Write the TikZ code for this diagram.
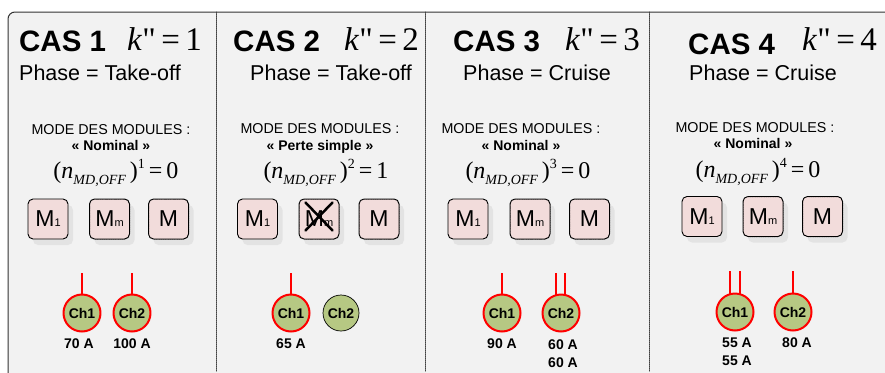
\documentclass[tikz,border=0pt]{standalone}
\usepackage{fontspec}
\setmainfont{Liberation Sans}
\newfontfamily\tms{Liberation Serif}
\usetikzlibrary{shadows}
\definecolor{panelbg}{HTML}{F2F2F2}
\definecolor{modfill}{HTML}{F2DCDB}
\definecolor{chfill}{HTML}{B6C883}
\definecolor{shade}{HTML}{D6D6D6}
\newcommand\noff[2]{(\textit{n}\raisebox{-6pt}{\fontsize{14}{14}\selectfont\itshape MD,OFF}\,)\raisebox{10pt}{\fontsize{14}{14}\selectfont #1}\,=\,#2}
\newcommand\kval[1]{\textit{k}"\,=\,#1}
\newcommand\modlbl[1]{M{\fontsize{11}{11}\selectfont #1}}
\begin{document}
\begin{tikzpicture}[x=1pt, y=-1pt, line join=round, line cap=round,
	cas/.style={anchor=base west, inner sep=0pt, font=\fontsize{29.5}{31}\selectfont\bfseries},
	kk/.style={anchor=base west, inner sep=0pt, font=\fontsize{33}{35}\selectfont\tms},
	phase/.style={anchor=base, inner sep=0pt, font=\fontsize{21.5}{23}\selectfont},
	mode/.style={anchor=base, inner sep=0pt, font=\fontsize{14.3}{16}\selectfont},
	mname/.style={anchor=base, inner sep=0pt, font=\fontsize{14}{16}\selectfont\bfseries},
	eqn/.style={anchor=base, inner sep=0pt, font=\fontsize{24}{26}\selectfont\tms},
	module/.style={draw=black, line width=0.9pt, fill=modfill, rounded corners=5pt, minimum width=40pt, minimum height=40pt, inner sep=0pt, font=\fontsize{23}{23}\selectfont, drop shadow={shadow xshift=5pt, shadow yshift=-6pt, fill=shade, draw=none}},
	moddot/.style={module, draw=black, line width=1pt, dash pattern=on 1.3pt off 0.5pt},
	chan/.style={circle, draw=red, line width=2pt, fill=chfill, minimum size=37pt, inner sep=0pt, font=\fontsize{14}{15}\selectfont\bfseries},
	chanoff/.style={chan, draw=black, line width=0.7pt, minimum size=36pt},
	amp/.style={anchor=base, inner sep=0pt, font=\fontsize{14}{15}\selectfont\bfseries},
	feed/.style={draw=red, line width=2pt, line cap=butt},
	cross/.style={draw=black, line width=2.5pt, solid},
	sep/.style={draw=black!75, line width=1pt, densely dotted}]
	\useasboundingbox (0,0) rectangle (885,372);
	\clip (0,0) rectangle (885,372);
	\fill[panelbg, rounded corners=7pt] (8,380) -- (8,12) -- (893,12) -- (893,380) -- cycle;
	\draw[black!80, line width=1pt, rounded corners=7pt] (8,380) -- (8,12) -- (893,12);
	\draw[sep] (216,12) -- (216,372);
	\draw[sep] (425,12) -- (425,372);
	\draw[sep] (649,12) -- (649,372);
	\path
	(82,273) coordinate (f11)
	(132,273) coordinate (f12)
	(291,273) coordinate (f21)
	(502,273) coordinate (f31)
	(556,273) coordinate (f32a)
	(565,273) coordinate (f32b)
	(730,271) coordinate (f41a)
	(740,271) coordinate (f41b)
	(793,271) coordinate (f42)
	;
	
	\node[cas] (cas1) at (19,51) {CAS 1};
	\node[kk] (k1) at (127,50) {\kval{1}};
	\node[phase, anchor=base west] (ph1) at (19,80) {Phase = Take-off};
	\node[mode] (md1) at (111,134) {MODE DES MODULES :};
	\node[mname] (mn1) at (111,150) {« Nominal »};
	\node[eqn] (eq1) at (116,178) {\noff{1}{0}};
	\node[module] (b11) at (48,219) {\modlbl{1}};
	\node[moddot] (b12) at (109.5,219) {\modlbl{m}};
	\node[moddot] (b13) at (168.5,219) {M};
	\draw[feed] (f11) -- (f11 |- 0,296);
	\draw[feed] (f12) -- (f12 |- 0,296);
	\node[chan] (c11) at (82,313) {Ch1};
	\node[chan] (c12) at (132,313) {Ch2};
	\node[amp] (a11) at (79,348) {70 A};
	\node[amp] (a12) at (132,348) {100 A};
	
	\node[cas] (cas2) at (233,51) {CAS 2};
	\node[kk] (k2) at (344,50) {\kval{2}};
	\node[phase] (ph2) at (331,80) {Phase = Take-off};
	\node[mode] (md2) at (320,133) {MODE DES MODULES :};
	\node[mname] (mn2) at (320,150) {« Perte simple »};
	\node[eqn] (eq2) at (326,178) {\noff{2}{1}};
	\node[module] (b21) at (257.5,219) {\modlbl{1}};
	\node[moddot] (b22) at (319,219) {\modlbl{m}};
	\node[moddot] (b23) at (379,219) {M};
	\draw[cross] ([shift={(7,4)}]b22.north west) -- ([shift={(-7,-9)}]b22.south east);
	\draw[cross] ([shift={(7,-9)}]b22.south west) -- ([shift={(-7,4)}]b22.north east);
	\draw[feed] (f21) -- (f21 |- 0,296);
	\node[chan] (c21) at (291,313) {Ch1};
	\node[chanoff] (c22) at (341,313) {Ch2};
	\node[amp] (a21) at (291,348) {65 A};
	
	\node[cas] (cas3) at (453,51) {CAS 3};
	\node[kk] (k3) at (565,50) {\kval{3}};
	\node[phase] (ph3) at (537,80) {Phase = Cruise};
	\node[mode] (md3) at (521,133) {MODE DES MODULES :};
	\node[mname] (mn3) at (521,150) {« Nominal »};
	\node[eqn] (eq3) at (528,178) {\noff{3}{0}};
	\node[module] (b31) at (468,219) {\modlbl{1}};
	\node[moddot] (b32) at (530,219) {\modlbl{m}};
	\node[moddot] (b33) at (589.5,219) {M};
	\draw[feed] (f31) -- (f31 |- 0,296);
	\draw[feed] (f32a) -- (f32a |- 0,297);
	\draw[feed] (f32b) -- (f32b |- 0,297);
	\node[chan] (c31) at (502,313) {Ch1};
	\node[chan] (c32) at (561,313) {Ch2};
	\node[amp] (a31) at (502,348) {90 A};
	\node[amp] (a32) at (563,349) {60 A};
	\node[amp] (a33) at (563,367) {60 A};
	
	\node[cas] (cas4) at (688,54) {CAS 4};
	\node[kk] (k4) at (802,50) {\kval{4}};
	\node[phase] (ph4) at (763,80) {Phase = Cruise};
	\node[mode] (md4) at (755,132) {MODE DES MODULES :};
	\node[mname] (mn4) at (753,148) {« Nominal »};
	\node[eqn] (eq4) at (758,177) {\noff{4}{0}};
	\node[module] (b41) at (702,216.5) {\modlbl{1}};
	\node[moddot] (b42) at (763,216.5) {\modlbl{m}};
	\node[moddot] (b43) at (822.5,216.5) {M};
	\draw[feed] (f41a) -- (f41a |- 0,296);
	\draw[feed] (f41b) -- (f41b |- 0,296);
	\draw[feed] (f42) -- (f42 |- 0,295);
	\node[chan] (c41) at (735,312) {Ch1};
	\node[chan] (c42) at (793,312) {Ch2};
	\node[amp] (a41) at (737,347) {55 A};
	\node[amp] (a42) at (737,365) {55 A};
	\node[amp] (a43) at (797,347) {80 A};
\end{tikzpicture}
\end{document}
